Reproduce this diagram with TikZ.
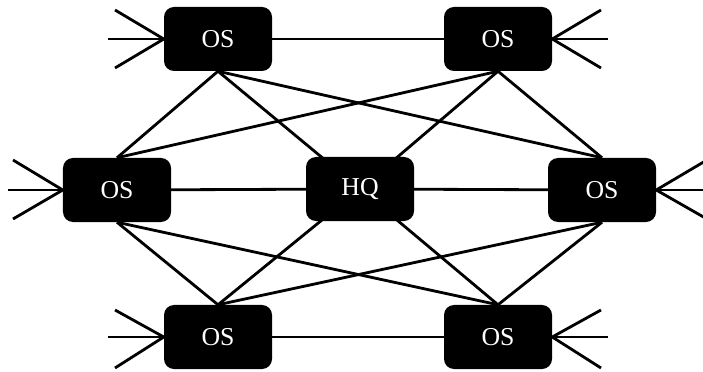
\documentclass[tikz,border=0pt]{standalone}
\usepackage{fontspec}
\setmainfont{Liberation Serif}
\usetikzlibrary{backgrounds}
\begin{document}
\begin{tikzpicture}[x=0.03cm, y=-0.03cm,
    office/.style={fill=black, rounded corners=0.3cm, text=white, minimum width=3.24cm, minimum height=1.92cm, inner sep=0pt, font=\fontsize{22}{22}\selectfont},
    link/.style={line width=2.4pt}]
  \useasboundingbox (0,0) rectangle (703,372);
  % offices
  \node[office] (tl) at (218,39) {OS};
  \node[office] (tr) at (498,39) {OS};
  \node[office] (ml) at (117,190) {OS};
  \node[office] (hq) at (360,189) {HQ};
  \node[office] (mr) at (602,190) {OS};
  \node[office] (bl) at (218,337) {OS};
  \node[office] (br) at (498,337) {OS};
  % free ends of the incoming fans
  \coordinate (tla) at (115,10);  \coordinate (tlb) at (108,39);  \coordinate (tlc) at (115,68);
  \coordinate (tra) at (601,10);  \coordinate (trb) at (608,39);  \coordinate (trc) at (601,68);
  \coordinate (mla) at (13,160);  \coordinate (mlb) at (8,190);   \coordinate (mlc) at (13,219);
  \coordinate (mra) at (707,160); \coordinate (mrb) at (712,190); \coordinate (mrc) at (707,219);
  \coordinate (bla) at (115,310); \coordinate (blb) at (108,337); \coordinate (blc) at (115,368);
  \coordinate (bra) at (601,310); \coordinate (brb) at (608,337); \coordinate (brc) at (601,368);
  \begin{scope}[on background layer]
    \foreach \n in {a,b,c} {
      \draw[link] (tl\n) -- (tl.west);
      \draw[link] (tr\n) -- (tr.east);
      \draw[link] (ml\n) -- (ml.west);
      \draw[link] (mr\n) -- (mr.east);
      \draw[link] (bl\n) -- (bl.west);
      \draw[link] (br\n) -- (br.east);
    }
    \draw[link] (tl) -- (tr);
    \draw[link] (ml) -- (hq) -- (mr);
    \draw[link] (bl) -- (br);
    \foreach \t in {tl,tr} {
      \draw[link] (\t.south) -- (ml.north);
      \draw[link] (\t.south) -- (hq.center);
      \draw[link] (\t.south) -- (mr.north);
    }
    \foreach \b in {bl,br} {
      \draw[link] (\b.north) -- (ml.south);
      \draw[link] (\b.north) -- (hq.center);
      \draw[link] (\b.north) -- (mr.south);
    }
  \end{scope}
\end{tikzpicture}
\end{document}
